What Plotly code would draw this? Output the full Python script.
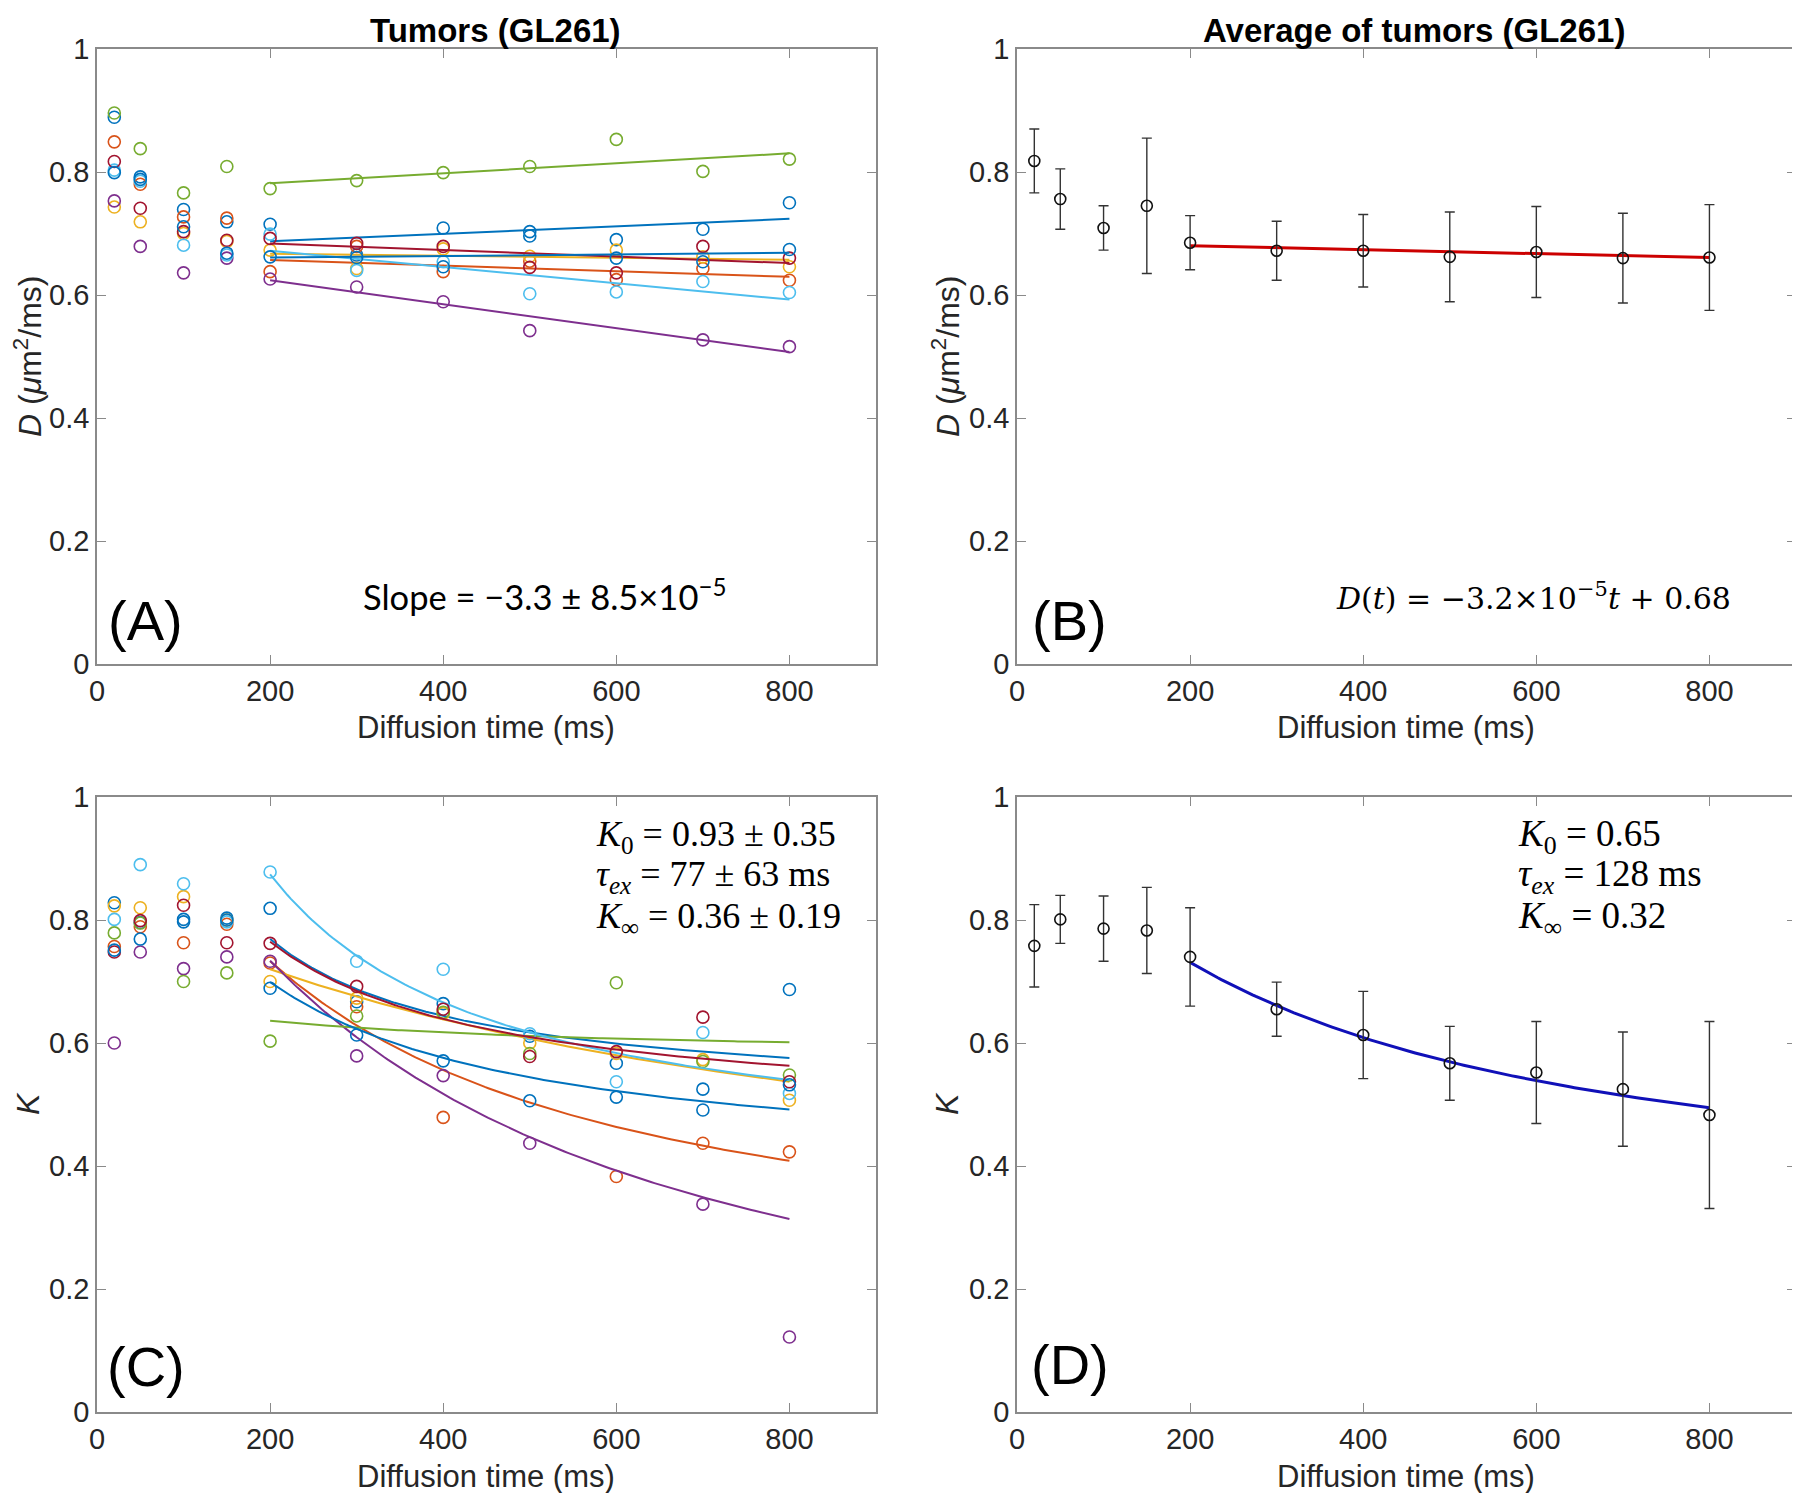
import numpy as np
import plotly.graph_objects as go

# page has an 8px body margin: figure is placed at (8, 8) in the 1800x1497 window
OFF = 8
FW, FH = 1790, 1485

# ---------------- data ----------------
times = [20, 50, 100, 150, 200, 300, 400, 500, 600, 700, 800]
tumor_names = ["T1", "T2", "T3", "T4", "T5", "T6", "T7", "T8"]
tumor_colors = ["#0072BD", "#D95319", "#EDB120", "#7E2F8E", "#77AC30", "#4DBEEE", "#A2142F", "#0072BD"]

D_T1 = [0.889, 0.792, 0.739, 0.719, 0.715, 0.665, 0.709, 0.703, 0.690, 0.707, 0.750]
D_T2 = [0.849, 0.780, 0.727, 0.725, 0.638, 0.679, 0.638, 0.655, 0.625, 0.643, 0.624]
D_T3 = [0.743, 0.719, 0.700, 0.687, 0.673, 0.643, 0.675, 0.663, 0.673, 0.662, 0.646]
D_T4 = [0.753, 0.679, 0.636, 0.660, 0.626, 0.613, 0.589, 0.542, None, 0.527, 0.516]
D_T5 = [0.896, 0.838, 0.766, 0.809, 0.773, 0.786, 0.799, 0.809, 0.853, 0.801, 0.821]
D_T6 = [0.803, 0.785, 0.681, 0.665, 0.699, 0.640, 0.654, 0.602, 0.605, 0.622, 0.604]
D_T7 = [0.817, 0.741, 0.703, 0.689, 0.692, 0.684, 0.679, 0.645, 0.636, 0.679, 0.660]
D_T8 = [0.799, 0.788, 0.711, 0.668, 0.662, 0.661, 0.646, 0.696, 0.660, 0.654, 0.674]

K_T1 = [0.828, 0.796, 0.801, 0.803, 0.819, 0.667, 0.664, 0.611, 0.567, 0.525, 0.687]
K_T2 = [0.757, 0.789, 0.763, 0.793, 0.730, 0.659, 0.479, None, 0.383, 0.437, 0.423]
K_T3 = [0.823, 0.820, 0.838, 0.800, 0.700, 0.673, 0.648, 0.600, 0.583, 0.573, 0.507]
K_T4 = [0.600, 0.748, 0.721, 0.740, 0.733, 0.579, 0.547, 0.437, None, 0.338, 0.122]
K_T5 = [0.779, 0.795, 0.700, 0.714, 0.603, 0.644, 0.650, 0.583, 0.698, 0.570, 0.548]
K_T6 = [0.801, 0.890, 0.859, 0.797, 0.878, 0.733, 0.720, 0.615, 0.537, 0.617, 0.518]
K_T7 = [0.748, 0.799, 0.824, 0.763, 0.762, 0.692, 0.655, 0.578, 0.586, 0.642, 0.537]
K_T8 = [0.751, 0.769, 0.797, 0.800, 0.689, 0.613, 0.571, 0.506, 0.512, 0.491, 0.532]

# per-tumour exchange-model fit parameters (K0, tau_ex [ms], K_inf)
fit_K0 = [1.473, 0.930, 0.535, 1.153, 0.101, 1.483, 0.894, 0.720]
fit_tau = [20, 100, 250, 130, 100, 40, 40, 60]
fit_Kinf = [0.504, 0.205, 0.303, 0.0, 0.579, 0.399, 0.478, 0.392]

# averages
D_mean = [0.818, 0.756, 0.709, 0.745, 0.685, 0.672, 0.672, 0.662, 0.670, 0.660, 0.661]
D_sd = [0.052, 0.049, 0.036, 0.110, 0.044, 0.048, 0.059, 0.073, 0.074, 0.073, 0.086]
K_mean = [0.758, 0.801, 0.786, 0.783, 0.740, 0.655, 0.613, 0.567, 0.552, 0.525, 0.483]
K_sd = [0.067, 0.039, 0.053, 0.070, 0.080, 0.044, 0.071, 0.060, 0.083, 0.093, 0.152]
avgD_slope, avgD_intercept = -3.2e-5, 0.6865
avgK_K0, avgK_tau, avgK_Kinf = 0.65, 128, 0.32

fit_start = 200
D_all = [D_T1, D_T2, D_T3, D_T4, D_T5, D_T6, D_T7, D_T8]
K_all = [K_T1, K_T2, K_T3, K_T4, K_T5, K_T6, K_T7, K_T8]


def kmodel(t, K0, tau, Kinf):
    t = np.asarray(t, dtype=float)
    r = tau / t
    return Kinf + 2 * K0 * r * (1 - r * (1 - np.exp(-t / tau)))


# ---------------- figure ----------------
fig = go.Figure()

def px_x(p):
    return (p - OFF) / FW

def px_y(p):
    return 1 - (p - OFF) / FH

domA_x = [px_x(97), px_x(876)]
domB_x = [px_x(1017), px_x(1796)]
dom_top = [px_y(664), px_y(49)]
dom_bot = [px_y(1412), px_y(797)]

axcol = "#8a8a8a"
tickfont = dict(family="Liberation Sans, Arial", size=29, color="#262626")


def xax(domain, anchor):
    return dict(domain=domain, anchor=anchor, range=[0, 900], dtick=200, tick0=0,
                showline=True, linecolor=axcol, linewidth=1.5, mirror="ticks",
                ticks="inside", ticklen=9, tickwidth=1.3, tickcolor=axcol,
                showgrid=False, zeroline=False, tickfont=tickfont, automargin=False)


def yax(domain, anchor):
    return dict(domain=domain, anchor=anchor, range=[0, 1], dtick=0.2, tick0=0,
                showline=True, linecolor=axcol, linewidth=1.5, mirror="ticks",
                ticks="inside", ticklen=9, tickwidth=1.3, tickcolor=axcol,
                showgrid=False, zeroline=False, tickfont=tickfont, automargin=False)


t_arr = np.array(times, dtype=float)
t_lin = np.linspace(fit_start, 800, 61)
t_curve = np.linspace(fit_start, 800, 151)

# Panel A
for i, vals in enumerate(D_all):
    v = np.array([np.nan if x is None else x for x in vals], dtype=float)
    m = (t_arr >= fit_start) & ~np.isnan(v)
    p = np.polyfit(t_arr[m], v[m], 1)
    fig.add_trace(go.Scatter(x=times, y=vals, mode="markers", xaxis="x", yaxis="y",
                             marker=dict(symbol="circle-open", size=12, color=tumor_colors[i],
                                         line=dict(width=1.6, color=tumor_colors[i])),
                             showlegend=False, name=tumor_names[i]))
    fig.add_trace(go.Scatter(x=t_lin, y=np.polyval(p, t_lin), mode="lines", xaxis="x", yaxis="y",
                             line=dict(color=tumor_colors[i], width=2), showlegend=False))

# Panel C
for i, vals in enumerate(K_all):
    fig.add_trace(go.Scatter(x=times, y=vals, mode="markers", xaxis="x3", yaxis="y3",
                             marker=dict(symbol="circle-open", size=12, color=tumor_colors[i],
                                         line=dict(width=1.6, color=tumor_colors[i])),
                             showlegend=False, name=tumor_names[i]))
    fig.add_trace(go.Scatter(x=t_curve, y=kmodel(t_curve, fit_K0[i], fit_tau[i], fit_Kinf[i]),
                             mode="lines", xaxis="x3", yaxis="y3",
                             line=dict(color=tumor_colors[i], width=2), showlegend=False))

# Panel B
fig.add_trace(go.Scatter(x=t_lin, y=avgD_intercept + avgD_slope * t_lin, mode="lines",
                         xaxis="x2", yaxis="y2", line=dict(color="#CC0000", width=3), showlegend=False))
fig.add_trace(go.Scatter(x=times, y=D_mean, mode="markers", xaxis="x2", yaxis="y2",
                         marker=dict(symbol="circle-open", size=11, color="#111",
                                     line=dict(width=1.6, color="#111")),
                         error_y=dict(type="data", array=D_sd, visible=True, color="#333",
                                      thickness=1.4, width=5),
                         showlegend=False))

# Panel D
fig.add_trace(go.Scatter(x=t_curve, y=kmodel(t_curve, avgK_K0, avgK_tau, avgK_Kinf), mode="lines",
                         xaxis="x4", yaxis="y4", line=dict(color="#1010B8", width=3), showlegend=False))
fig.add_trace(go.Scatter(x=times, y=K_mean, mode="markers", xaxis="x4", yaxis="y4",
                         marker=dict(symbol="circle-open", size=11, color="#111",
                                     line=dict(width=1.6, color="#111")),
                         error_y=dict(type="data", array=K_sd, visible=True, color="#333",
                                      thickness=1.4, width=5),
                         showlegend=False))

fig.update_layout(
    template="none",
    width=FW, height=FH, margin=dict(l=0, r=0, t=0, b=0, pad=0, autoexpand=False),
    paper_bgcolor="white", plot_bgcolor="white", showlegend=False,
    xaxis=xax(domA_x, "y"), yaxis=yax(dom_top, "x"),
    xaxis2=xax(domB_x, "y2"), yaxis2=yax(dom_top, "x2"),
    xaxis3=xax(domA_x, "y3"), yaxis3=yax(dom_bot, "x3"),
    xaxis4=xax(domB_x, "y4"), yaxis4=yax(dom_bot, "x4"),
)

ann = []
sans = "Liberation Sans, Arial"
serif = "Liberation Serif, Times New Roman"


def A(text, x, y, size, family=sans, color="#000", xanchor="center", yanchor="middle", angle=0):
    ann.append(dict(text=text, x=px_x(x), y=px_y(y), xref="paper", yref="paper", showarrow=False,
                    font=dict(family=family, size=size, color=color), xanchor=xanchor,
                    yanchor=yanchor, textangle=angle))


A("<b>Tumors (GL261)</b>", 495, 31, 33)
A("<b>Average of tumors (GL261)</b>", 1414, 31, 33)
for xc in (486, 1406):
    A("Diffusion time (ms)", xc, 727, 31, color="#262626")
    A("Diffusion time (ms)", xc, 1476, 31, color="#262626")
A("<i>D</i> (<i>μ</i>m<sup>2</sup>/ms)", 28, 356, 32, color="#262626", angle=-90)
A("<i>D</i> (<i>μ</i>m<sup>2</sup>/ms)", 946, 356, 32, color="#262626", angle=-90)
A("<i>K</i>", 28, 1104, 32, color="#262626", angle=-90)
A("<i>K</i>", 947, 1104, 32, color="#262626", angle=-90)

A("(A)", 145, 620, 56)
A("(B)", 1069, 620, 56)
A("(C)", 146, 1366, 56)
A("(D)", 1070, 1364, 56)

A("Slope = −3.3 ± 8.5×10<sup>−5</sup>", 361, 594, 34.5, family="Lato, Open Sans", xanchor="left")
A("<i>D</i>(<i>t</i>) = −3.2×10<sup>−5</sup><i>t</i> + 0.68", 1733, 596, 30,
  family="DejaVu Serif, Liberation Serif", xanchor="right")

A("<i>K</i><sub>0</sub> = 0.93 ± 0.35", 594, 836, 36, family=serif, xanchor="left")
A("<i>τ<sub>ex</sub></i> = 77 ± 63 ms", 594, 877, 36, family=serif, xanchor="left")
A("<i>K</i><sub>∞</sub> = 0.36 ± 0.19", 594, 918, 36, family=serif, xanchor="left")

A("<i>K</i><sub>0</sub> = 0.65", 1516, 836, 37, family=serif, xanchor="left")
A("<i>τ<sub>ex</sub></i> = 128 ms", 1516, 877, 37, family=serif, xanchor="left")
A("<i>K</i><sub>∞</sub> = 0.32", 1516, 918, 37, family=serif, xanchor="left")

fig.update_layout(annotations=ann)
fig.write_html("out.html")
